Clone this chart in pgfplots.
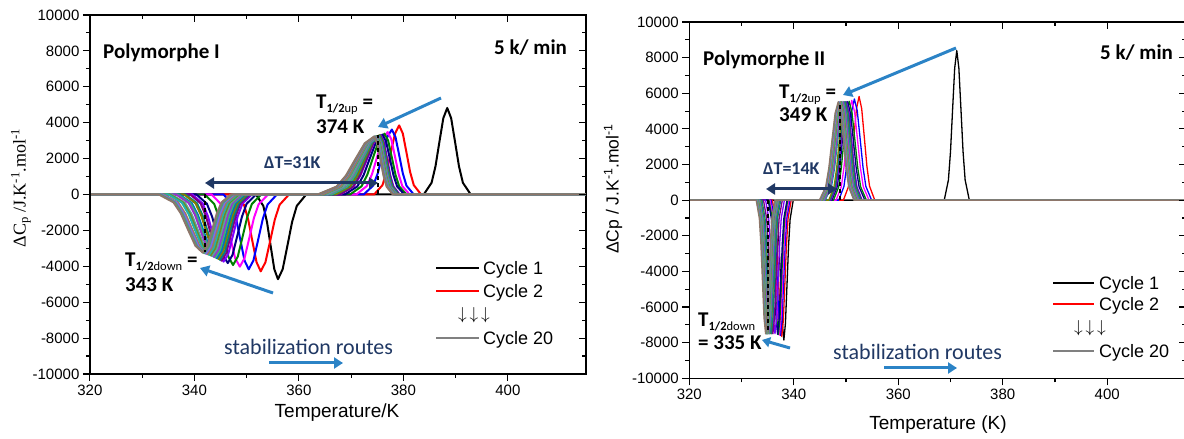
\documentclass[border=0pt]{standalone}
\usepackage{fontspec}
\setmainfont{Liberation Sans}
\newfontfamily\calib{Carlito}
\newfontfamily\tnr{Liberation Serif}
\usepackage{pgfplots}
\pgfplotsset{compat=1.18}
\usetikzlibrary{arrows.meta}
\definecolor{c1}{HTML}{000000}
\definecolor{c2}{HTML}{FF0000}
\definecolor{c3}{HTML}{0000FF}
\definecolor{c4}{HTML}{FF00FF}
\definecolor{c5}{HTML}{008000}
\definecolor{c6}{HTML}{000080}
\definecolor{c7}{HTML}{8000FF}
\definecolor{c8}{HTML}{800080}
\definecolor{c9}{HTML}{008080}
\definecolor{c10}{HTML}{808000}
\definecolor{c11}{HTML}{0070C0}
\definecolor{c12}{HTML}{3CB371}
\definecolor{c13}{HTML}{9932CC}
\definecolor{c14}{HTML}{5F9EA0}
\definecolor{c15}{HTML}{6B8E23}
\definecolor{c16}{HTML}{20B2AA}
\definecolor{c17}{HTML}{A0785A}
\definecolor{c18}{HTML}{7B68EE}
\definecolor{c19}{HTML}{4F9A7A}
\definecolor{c20}{HTML}{8E766A}
\definecolor{arrblue}{HTML}{2B83C6}
\definecolor{navytxt}{HTML}{203864}
\pgfplotsset{
  myframe/.style={scale only axis, width=496.3pt,
    xmin=320, xmax=415, ymin=-10000, ymax=10000,
    xtick={320,340,360,380,400}, ytick={-10000,-8000,-6000,-4000,-2000,0,2000,4000,6000,8000,10000},
    minor x tick num=1, minor y tick num=1,
    scaled x ticks=false, scaled y ticks=false,
    major tick length=7pt, minor tick length=4pt,
    axis line style={line width=1.4pt},
    tick style={line width=1.1pt, black},
    /pgf/number format/1000 sep={},
    /pgf/number format/assume math mode=true,
    tick label style={font=\fontsize{15}{18}\selectfont},
    clip=true},
}
\newcommand\bt[1]{{\calib\bfseries\fontsize{21}{24}\selectfont #1}}
\newcommand\sub[1]{\raisebox{-4pt}{\fontsize{12.5}{14}\selectfont #1}}
\begin{document}
\begin{tikzpicture}
\useasboundingbox (0pt,0pt) rectangle (1184pt,439pt);
% ================= LEFT PANEL =================
\begin{axis}[myframe, at={(89.9pt,65pt)}, anchor=south west, height=359pt,
  tick align=outside, xtick pos=left, ytick pos=left,
  every axis plot/.append style={line width=2pt, line join=round}]
\addplot[c1] coordinates {(320,0)(351.8,0)(353.2,-637)(353.9,-1534)(354.6,-2865)(355.3,-4163)(356.0,-4720)(356.9,-4163)(357.8,-2865)(358.7,-1534)(359.6,-637)(361.4,0)(383.9,0)(385.4,651)(386.15,1567)(386.9,2926)(387.65,4251)(388.4,4820)(389.15,4251)(389.9,2926)(390.65,1567)(391.4,651)(392.9,0)(415,0)};
\addplot[c2] coordinates {(320,0)(347.9,0)(349.5,-578)(350.3,-1391)(351.1,-2598)(351.9,-3775)(352.7,-4280)(353.6,-3775)(354.5,-2598)(355.4,-1391)(356.3,-578)(358.1,0)(374.4,0)(376.0,520)(376.8,1251)(377.6,2337)(378.4,3396)(379.2,3850)(379.9,3396)(380.6,2337)(381.3,1251)(382.0,520)(383.4,0)(415,0)};
\addplot[c3] coordinates {(320,0)(345.6,0)(347.2,-563)(348.0,-1355)(348.8,-2531)(349.6,-3678)(350.4,-4170)(351.3,-3678)(352.2,-2531)(353.1,-1355)(354.0,-563)(355.8,0)(372.4,0)(374.2,489)(375.1,1177)(376.0,2197)(376.9,3193)(377.8,3620)(378.5,3193)(379.2,2197)(379.9,1177)(380.6,489)(382.0,0)(415,0)};
\addplot[c4] coordinates {(320,0)(343.3,0)(345.1,-543)(346.0,-1307)(346.9,-2440)(347.8,-3546)(348.7,-4020)(349.6,-3546)(350.5,-2440)(351.4,-1307)(352.3,-543)(354.1,0)(371.0,0)(373.0,470)(374.0,1131)(375.0,2112)(376.0,3069)(377.0,3480)(377.7,3069)(378.4,2112)(379.1,1131)(379.8,470)(381.2,0)(415,0)};
\addplot[c5] coordinates {(320,0)(342.0,0)(343.8,-531)(344.7,-1277)(345.6,-2386)(346.5,-3466)(347.4,-3930)(348.3,-3466)(349.2,-2386)(350.1,-1277)(351.0,-531)(352.8,0)(369.8,0)(372.0,458)(373.1,1102)(374.2,2058)(375.3,2990)(376.4,3390)(377.1,2990)(377.8,2058)(378.5,1102)(379.2,458)(380.6,0)(415,0)};
\addplot[c6] coordinates {(320,0)(340.4,0)(342.4,-516)(343.4,-1242)(344.4,-2319)(345.4,-3369)(346.4,-3820)(347.3,-3369)(348.2,-2319)(349.1,-1242)(350.0,-516)(351.8,0)(368.8,0)(371.2,451)(372.4,1086)(373.6,2027)(374.8,2946)(376.0,3340)(376.7,2946)(377.4,2027)(378.1,1086)(378.8,451)(380.2,0)(415,0)};
\addplot[c7] coordinates {(320,0)(339.6,0)(341.6,-505)(342.6,-1216)(343.6,-2270)(344.6,-3299)(345.6,-3740)(346.5,-3299)(347.4,-2270)(348.3,-1216)(349.2,-505)(351.0,0)(367.9,0)(370.5,446)(371.8,1073)(373.1,2003)(374.4,2911)(375.7,3300)(376.3,2911)(376.9,2003)(377.5,1073)(378.1,446)(379.3,0)(415,0)};
\addplot[c8] coordinates {(320,0)(339.2,0)(341.2,-498)(342.2,-1199)(343.2,-2240)(344.2,-3255)(345.2,-3690)(346.1,-3255)(347.0,-2240)(347.9,-1199)(348.8,-498)(350.6,0)(367.8,0)(370.4,446)(371.7,1073)(373.0,2003)(374.3,2911)(375.6,3300)(376.2,2911)(376.8,2003)(377.4,1073)(378.0,446)(379.2,0)(415,0)};
\addplot[c9] coordinates {(320,0)(338.3,0)(340.5,-491)(341.6,-1183)(342.7,-2209)(343.8,-3210)(344.9,-3640)(345.8,-3210)(346.7,-2209)(347.6,-1183)(348.5,-491)(350.3,0)(367.1,0)(369.9,446)(371.3,1073)(372.7,2003)(374.1,2911)(375.5,3300)(376.1,2911)(376.7,2003)(377.3,1073)(377.9,446)(379.1,0)(415,0)};
\addplot[c10] coordinates {(320,0)(338.0,0)(340.2,-485)(341.3,-1167)(342.4,-2179)(343.5,-3166)(344.6,-3590)(345.5,-3166)(346.4,-2179)(347.3,-1167)(348.2,-485)(350.0,0)(367.0,0)(369.8,446)(371.2,1073)(372.6,2003)(374.0,2911)(375.4,3300)(376.0,2911)(376.6,2003)(377.2,1073)(377.8,446)(379.0,0)(415,0)};
\addplot[c11] coordinates {(320,0)(337.1,0)(339.5,-479)(340.7,-1154)(341.9,-2155)(343.1,-3131)(344.3,-3550)(345.2,-3131)(346.1,-2155)(347.0,-1154)(347.9,-479)(349.7,0)(366.3,0)(369.3,440)(370.8,1060)(372.3,1979)(373.8,2875)(375.3,3260)(375.9,2875)(376.5,1979)(377.1,1060)(377.7,440)(378.9,0)(415,0)};
\addplot[c12] coordinates {(320,0)(336.8,0)(339.2,-474)(340.4,-1141)(341.6,-2131)(342.8,-3096)(344.0,-3510)(344.9,-3096)(345.8,-2131)(346.7,-1141)(347.6,-474)(349.4,0)(366.2,0)(369.2,440)(370.7,1060)(372.2,1979)(373.7,2875)(375.2,3260)(375.8,2875)(376.4,1979)(377.0,1060)(377.6,440)(378.8,0)(415,0)};
\addplot[c13] coordinates {(320,0)(336.5,0)(338.9,-468)(340.1,-1128)(341.3,-2106)(342.5,-3061)(343.7,-3470)(344.6,-3061)(345.5,-2106)(346.4,-1128)(347.3,-468)(349.1,0)(365.5,0)(368.7,440)(370.3,1060)(371.9,1979)(373.5,2875)(375.1,3260)(375.7,2875)(376.3,1979)(376.9,1060)(377.5,440)(378.7,0)(415,0)};
\addplot[c14] coordinates {(320,0)(335.6,0)(338.2,-463)(339.5,-1115)(340.8,-2082)(342.1,-3025)(343.4,-3430)(344.3,-3025)(345.2,-2082)(346.1,-1115)(347.0,-463)(348.8,0)(365.4,0)(368.6,440)(370.2,1060)(371.8,1979)(373.4,2875)(375.0,3260)(375.6,2875)(376.2,1979)(376.8,1060)(377.4,440)(378.6,0)(415,0)};
\addplot[c15] coordinates {(320,0)(335.3,0)(337.9,-458)(339.2,-1102)(340.5,-2058)(341.8,-2990)(343.1,-3390)(344.0,-2990)(344.9,-2058)(345.8,-1102)(346.7,-458)(348.5,0)(364.7,0)(368.1,440)(369.8,1060)(371.5,1979)(373.2,2875)(374.9,3260)(375.5,2875)(376.1,1979)(376.7,1060)(377.3,440)(378.5,0)(415,0)};
\addplot[c16] coordinates {(320,0)(335.0,0)(337.6,-454)(338.9,-1092)(340.2,-2040)(341.5,-2964)(342.8,-3360)(343.7,-2964)(344.6,-2040)(345.5,-1092)(346.4,-454)(348.2,0)(364.6,0)(368.0,436)(369.7,1050)(371.4,1961)(373.1,2849)(374.8,3230)(375.4,2849)(376.0,1961)(376.6,1050)(377.2,436)(378.4,0)(415,0)};
\addplot[c17] coordinates {(320,0)(334.1,0)(336.9,-450)(338.3,-1082)(339.7,-2021)(341.1,-2937)(342.5,-3330)(343.4,-2937)(344.3,-2021)(345.2,-1082)(346.1,-450)(347.9,0)(364.5,0)(367.9,436)(369.6,1050)(371.3,1961)(373.0,2849)(374.7,3230)(375.3,2849)(375.9,1961)(376.5,1050)(377.1,436)(378.3,0)(415,0)};
\addplot[c18] coordinates {(320,0)(333.8,0)(336.6,-446)(338.0,-1073)(339.4,-2003)(340.8,-2911)(342.2,-3300)(343.1,-2911)(344.0,-2003)(344.9,-1073)(345.8,-446)(347.6,0)(363.8,0)(367.4,436)(369.2,1050)(371.0,1961)(372.8,2849)(374.6,3230)(375.2,2849)(375.8,1961)(376.4,1050)(377.0,436)(378.2,0)(415,0)};
\addplot[c19] coordinates {(320,0)(333.5,0)(336.3,-441)(337.7,-1063)(339.1,-1985)(340.5,-2884)(341.9,-3270)(342.8,-2884)(343.7,-1985)(344.6,-1063)(345.5,-441)(347.3,0)(363.7,0)(367.3,436)(369.1,1050)(370.9,1961)(372.7,2849)(374.5,3230)(375.1,2849)(375.7,1961)(376.3,1050)(376.9,436)(378.1,0)(415,0)};
\addplot[c20] coordinates {(320,0)(333.2,0)(336.0,-437)(337.4,-1053)(338.8,-1967)(340.2,-2858)(341.6,-3240)(342.5,-2858)(343.4,-1967)(344.3,-1053)(345.2,-437)(347.0,0)(363.6,0)(367.2,436)(369.0,1050)(370.8,1961)(372.6,2849)(374.4,3230)(375.0,2849)(375.6,1961)(376.2,1050)(376.8,436)(378.0,0)(415,0)};
\addplot[black, line width=2pt, dash pattern=on 4pt off 3pt] coordinates {(375.1,0)(375.1,3300)};
\addplot[black, line width=2pt, dash pattern=on 4pt off 3pt] coordinates {(342.1,0)(342.1,-3200)};
\end{axis}
\begin{axis}[myframe, at={(89.9pt,65pt)}, anchor=south west, height=359pt,
  tick align=inside, xtick pos=right, ytick pos=right, xticklabels={}, yticklabels={}]
\end{axis}
% ================= RIGHT PANEL =================
\begin{axis}[myframe, at={(689.3pt,60.7pt)}, anchor=south west, height=356.3pt,
  tick align=outside, xtick pos=left, ytick pos=left,
  every axis plot/.append style={line width=1.3pt, line join=round}]
\addplot[c1] coordinates {(320,0)(336.3,0)(336.9,-1060)(337.2,-2551)(337.5,-4765)(337.8,-6924)(338.1,-7850)(338.4,-6924)(338.7,-4765)(339.0,-2551)(339.3,-1060)(339.9,0)(368.8,0)(369.6,1134)(370.0,2730)(370.4,5099)(370.8,7409)(371.2,8400)(371.6,7409)(372.0,5099)(372.4,2730)(372.8,1134)(373.6,0)(415,0)};
\addplot[c2] coordinates {(320,0)(335.9,0)(336.5,-1033)(336.8,-2486)(337.1,-4644)(337.4,-6747)(337.7,-7650)(338.0,-6747)(338.3,-4644)(338.6,-2486)(338.9,-1033)(339.5,0)(349.5,0)(350.5,786)(351.0,1892)(351.5,3533)(352.0,5133)(352.5,5820)(353.0,5133)(353.5,3533)(354.0,1892)(354.5,786)(355.5,0)(415,0)};
\addplot[c3] coordinates {(320,0)(335.65,0)(336.25,-1026)(336.55,-2470)(336.85,-4613)(337.15,-6703)(337.45,-7600)(337.75,-6703)(338.05,-4613)(338.35,-2470)(338.65,-1026)(339.25,0)(348.6,0)(349.6,767)(350.1,1846)(350.6,3448)(351.1,5010)(351.6,5680)(352.15,5010)(352.7,3448)(353.25,1846)(353.8,767)(354.9,0)(415,0)};
\addplot[c4] coordinates {(320,0)(335.45,0)(336.05,-1022)(336.35,-2460)(336.65,-4595)(336.95,-6677)(337.25,-7570)(337.55,-6677)(337.85,-4595)(338.15,-2460)(338.45,-1022)(339.05,0)(348.1,0)(349.1,756)(349.6,1820)(350.1,3399)(350.6,4939)(351.1,5600)(351.65,4939)(352.2,3399)(352.75,1820)(353.3,756)(354.4,0)(415,0)};
\addplot[c5] coordinates {(320,0)(335.25,0)(335.85,-1019)(336.15,-2454)(336.45,-4583)(336.75,-6659)(337.05,-7550)(337.35,-6659)(337.65,-4583)(337.95,-2454)(338.25,-1019)(338.85,0)(347.6,0)(348.6,749)(349.1,1804)(349.6,3369)(350.1,4895)(350.6,5550)(351.15,4895)(351.7,3369)(352.25,1804)(352.8,749)(353.9,0)(415,0)};
\addplot[c6] coordinates {(320,0)(335.1,0)(335.7,-1017)(336.0,-2447)(336.3,-4571)(336.6,-6641)(336.9,-7530)(337.2,-6641)(337.5,-4571)(337.8,-2447)(338.1,-1017)(338.7,0)(347.3,0)(348.3,747)(348.8,1797)(349.3,3357)(349.8,4877)(350.3,5530)(350.85,4877)(351.4,3357)(351.95,1797)(352.5,747)(353.6,0)(415,0)};
\addplot[c7] coordinates {(320,0)(334.6,0)(335.2,-1013)(335.5,-2438)(335.8,-4553)(336.1,-6615)(336.4,-7500)(336.7,-6615)(337.0,-4553)(337.3,-2438)(337.6,-1013)(338.2,0)(347.1,0)(348.1,745)(348.6,1794)(349.1,3351)(349.6,4869)(350.1,5520)(350.6,4869)(351.1,3351)(351.6,1794)(352.1,745)(353.1,0)(415,0)};
\addplot[c8] coordinates {(320,0)(334.2,0)(334.8,-1013)(335.1,-2438)(335.4,-4553)(335.7,-6615)(336.0,-7500)(336.3,-6615)(336.6,-4553)(336.9,-2438)(337.2,-1013)(337.8,0)(347.0,0)(348.0,745)(348.5,1794)(349.0,3351)(349.5,4869)(350.0,5520)(350.5,4869)(351.0,3351)(351.5,1794)(352.0,745)(353.0,0)(415,0)};
\addplot[c9] coordinates {(320,0)(333.9,0)(334.5,-1013)(334.8,-2438)(335.1,-4553)(335.4,-6615)(335.7,-7500)(336.0,-6615)(336.3,-4553)(336.6,-2438)(336.9,-1013)(337.5,0)(346.9,0)(347.9,745)(348.4,1794)(348.9,3351)(349.4,4869)(349.9,5520)(350.4,4869)(350.9,3351)(351.4,1794)(351.9,745)(352.9,0)(415,0)};
\addplot[c10] coordinates {(320,0)(333.7,0)(334.3,-1013)(334.6,-2438)(334.9,-4553)(335.2,-6615)(335.5,-7500)(335.8,-6615)(336.1,-4553)(336.4,-2438)(336.7,-1013)(337.3,0)(346.7,0)(347.7,745)(348.2,1794)(348.7,3351)(349.2,4869)(349.7,5520)(350.2,4869)(350.7,3351)(351.2,1794)(351.7,745)(352.7,0)(415,0)};
\addplot[c11] coordinates {(320,0)(333.6,0)(334.2,-1013)(334.5,-2438)(334.8,-4553)(335.1,-6615)(335.4,-7500)(335.7,-6615)(336.0,-4553)(336.3,-2438)(336.6,-1013)(337.2,0)(346.0,0)(347.2,745)(347.8,1794)(348.4,3351)(349.0,4869)(349.6,5520)(350.1,4869)(350.6,3351)(351.1,1794)(351.6,745)(352.6,0)(415,0)};
\addplot[c12] coordinates {(320,0)(333.5,0)(334.1,-1013)(334.4,-2438)(334.7,-4553)(335.0,-6615)(335.3,-7500)(335.6,-6615)(335.9,-4553)(336.2,-2438)(336.5,-1013)(337.1,0)(345.9,0)(347.1,745)(347.7,1794)(348.3,3351)(348.9,4869)(349.5,5520)(350.0,4869)(350.5,3351)(351.0,1794)(351.5,745)(352.5,0)(415,0)};
\addplot[c13] coordinates {(320,0)(333.4,0)(334.0,-1013)(334.3,-2438)(334.6,-4553)(334.9,-6615)(335.2,-7500)(335.5,-6615)(335.8,-4553)(336.1,-2438)(336.4,-1013)(337.0,0)(345.8,0)(347.0,745)(347.6,1794)(348.2,3351)(348.8,4869)(349.4,5520)(349.9,4869)(350.4,3351)(350.9,1794)(351.4,745)(352.4,0)(415,0)};
\addplot[c14] coordinates {(320,0)(333.3,0)(333.9,-1013)(334.2,-2438)(334.5,-4553)(334.8,-6615)(335.1,-7500)(335.4,-6615)(335.7,-4553)(336.0,-2438)(336.3,-1013)(336.9,0)(345.6,0)(346.8,745)(347.4,1794)(348.0,3351)(348.6,4869)(349.2,5520)(349.7,4869)(350.2,3351)(350.7,1794)(351.2,745)(352.2,0)(415,0)};
\addplot[c15] coordinates {(320,0)(333.2,0)(333.8,-1013)(334.1,-2438)(334.4,-4553)(334.7,-6615)(335.0,-7500)(335.3,-6615)(335.6,-4553)(335.9,-2438)(336.2,-1013)(336.8,0)(345.5,0)(346.7,745)(347.3,1794)(347.9,3351)(348.5,4869)(349.1,5520)(349.6,4869)(350.1,3351)(350.6,1794)(351.1,745)(352.1,0)(415,0)};
\addplot[c16] coordinates {(320,0)(333.1,0)(333.7,-1013)(334.0,-2438)(334.3,-4553)(334.6,-6615)(334.9,-7500)(335.2,-6615)(335.5,-4553)(335.8,-2438)(336.1,-1013)(336.7,0)(345.4,0)(346.6,745)(347.2,1794)(347.8,3351)(348.4,4869)(349.0,5520)(349.5,4869)(350.0,3351)(350.5,1794)(351.0,745)(352.0,0)(415,0)};
\addplot[c17] coordinates {(320,0)(333.05,0)(333.65,-1013)(333.95,-2438)(334.25,-4553)(334.55,-6615)(334.85,-7500)(335.15,-6615)(335.45,-4553)(335.75,-2438)(336.05,-1013)(336.65,0)(345.3,0)(346.5,745)(347.1,1794)(347.7,3351)(348.3,4869)(348.9,5520)(349.4,4869)(349.9,3351)(350.4,1794)(350.9,745)(351.9,0)(415,0)};
\addplot[c18] coordinates {(320,0)(332.95,0)(333.55,-1013)(333.85,-2438)(334.15,-4553)(334.45,-6615)(334.75,-7500)(335.05,-6615)(335.35,-4553)(335.65,-2438)(335.95,-1013)(336.55,0)(345.1,0)(346.3,745)(346.9,1794)(347.5,3351)(348.1,4869)(348.7,5520)(349.2,4869)(349.7,3351)(350.2,1794)(350.7,745)(351.7,0)(415,0)};
\addplot[c19] coordinates {(320,0)(332.9,0)(333.5,-1013)(333.8,-2438)(334.1,-4553)(334.4,-6615)(334.7,-7500)(335.0,-6615)(335.3,-4553)(335.6,-2438)(335.9,-1013)(336.5,0)(345.0,0)(346.2,745)(346.8,1794)(347.4,3351)(348.0,4869)(348.6,5520)(349.1,4869)(349.6,3351)(350.1,1794)(350.6,745)(351.6,0)(415,0)};
\addplot[c20] coordinates {(320,0)(332.8,0)(333.4,-1013)(333.7,-2438)(334.0,-4553)(334.3,-6615)(334.6,-7500)(334.9,-6615)(335.2,-4553)(335.5,-2438)(335.8,-1013)(336.4,0)(344.9,0)(346.1,745)(346.7,1794)(347.3,3351)(347.9,4869)(348.5,5520)(349.0,4869)(349.5,3351)(350.0,1794)(350.5,745)(351.5,0)(415,0)};
\addplot[black, line width=1.8pt, dash pattern=on 4pt off 3pt] coordinates {(348.8,0)(348.8,5500)};
\addplot[black, line width=1.8pt, dash pattern=on 4pt off 3pt] coordinates {(335.1,0)(335.1,-7450)};
\end{axis}
\begin{axis}[myframe, at={(689.3pt,60.7pt)}, anchor=south west, height=356.3pt,
  tick align=inside, xtick pos=right, ytick pos=right, xticklabels={}, yticklabels={}]
\end{axis}
% ================= LABELS =================
\node at (337pt,26pt) {\fontsize{19}{22}\selectfont Temperature/K};
\node at (938pt,14pt) {\fontsize{19}{22}\selectfont Temperature (K)};
\node[rotate=90] at (21pt,251pt) {\tnr\fontsize{18}{21}\selectfont ΔC\textsubscript{p} /J.K\textsuperscript{-1}.mol\textsuperscript{-1}};
\node[rotate=90] at (613pt,250pt) {\fontsize{17.5}{21}\selectfont ΔCp / J.K\textsuperscript{-1}.mol\textsuperscript{-1}};
% left annotations
\node[anchor=base west, inner sep=0] at (103pt,380pt) {\bt{Polymorphe I}};
\node[anchor=base west, inner sep=0] at (494pt,384pt) {\bt{5 k/ min}};
\node[anchor=base west, inner sep=0] at (316pt,330pt) {\bt{T\sub{1/2\mdseries up} =}};
\node[anchor=base west, inner sep=0] at (316pt,305pt) {\bt{374 K}};
\node[anchor=base west, inner sep=0] at (264pt,270pt) {\calib\bfseries\fontsize{18}{21}\selectfont\color{navytxt}ΔT=31K};
\node[anchor=base west, inner sep=0] at (125pt,172pt) {\bt{T\sub{1/2\mdseries down} =}};
\node[anchor=base west, inner sep=0] at (125pt,147pt) {\bt{343 K}};
\node[anchor=base west, inner sep=0] at (224pt,84pt) {\calib\fontsize{22}{25}\selectfont\color{navytxt}stabilization routes};
\draw[arrblue, line width=3pt, -{Triangle[length=9pt,width=11pt]}] (441pt,341pt) -- (378pt,312pt);
\draw[arrblue, line width=3pt, -{Triangle[length=9pt,width=11pt]}] (273pt,146pt) -- (200pt,171pt);
\draw[arrblue, line width=3pt, -{Triangle[length=9pt,width=11pt]}] (269pt,76pt) -- (343pt,76pt);
\draw[navytxt, line width=3pt, {Triangle[length=9pt,width=11pt]}-{Triangle[length=9pt,width=11pt]}] (205pt,256pt) -- (378pt,256pt);
% left legend
\draw[black, line width=2pt] (436pt,171pt) -- (479pt,171pt);
\draw[red, line width=2pt] (436pt,148pt) -- (479pt,148pt);
\draw[gray, line width=2pt] (436pt,101pt) -- (479pt,101pt);
\node[anchor=base west, inner sep=0] at (483pt,164.5pt) {\fontsize{18}{21}\selectfont Cycle 1};
\node[anchor=base west, inner sep=0] at (483pt,141.5pt) {\fontsize{18}{21}\selectfont Cycle 2};
\node[anchor=base west, inner sep=0] at (483pt,94.5pt) {\fontsize{18}{21}\selectfont Cycle 20};
\node at (474pt,124pt) {\fontsize{18}{21}\selectfont $\downarrow\,\downarrow\,\downarrow$};
% right annotations
\node[anchor=base west, inner sep=0] at (703pt,373pt) {\bt{Polymorphe II}};
\node[anchor=base west, inner sep=0] at (1100pt,379pt) {\bt{5 k/ min}};
\node[anchor=base west, inner sep=0] at (779pt,340pt) {\bt{T\sub{1/2\mdseries up} =}};
\node[anchor=base west, inner sep=0] at (779pt,317pt) {\bt{349 K}};
\node[anchor=base west, inner sep=0] at (763pt,264pt) {\calib\bfseries\fontsize{18}{21}\selectfont\color{navytxt}ΔT=14K};
\node[anchor=base west, inner sep=0] at (698pt,112pt) {\bt{T\sub{1/2\mdseries down}}};
\node[anchor=base west, inner sep=0] at (698pt,89pt) {\bt{= 335 K}};
\node[anchor=base west, inner sep=0] at (833pt,79pt) {\calib\fontsize{22}{25}\selectfont\color{navytxt}stabilization routes};
\draw[arrblue, line width=3pt, -{Triangle[length=9pt,width=11pt]}] (956pt,391pt) -- (843pt,344pt);
\draw[arrblue, line width=3pt, -{Triangle[length=8pt,width=10pt]}] (790pt,91pt) -- (762pt,99pt);
\draw[arrblue, line width=3pt, -{Triangle[length=9pt,width=11pt]}] (884pt,71pt) -- (957pt,71pt);
\draw[navytxt, line width=3pt, {Triangle[length=9pt,width=11pt]}-{Triangle[length=9pt,width=11pt]}] (766pt,250pt) -- (837pt,250pt);
% right legend
\draw[black, line width=1.5pt] (1053pt,156pt) -- (1094pt,156pt);
\draw[red, line width=1.5pt] (1053pt,135pt) -- (1094pt,135pt);
\draw[gray, line width=1.5pt] (1053pt,88pt) -- (1094pt,88pt);
\node[anchor=base west, inner sep=0] at (1099pt,149.5pt) {\fontsize{18}{21}\selectfont Cycle 1};
\node[anchor=base west, inner sep=0] at (1099pt,128.5pt) {\fontsize{18}{21}\selectfont Cycle 2};
\node[anchor=base west, inner sep=0] at (1099pt,81.5pt) {\fontsize{18}{21}\selectfont Cycle 20};
\node at (1090pt,111pt) {\fontsize{18}{21}\selectfont $\downarrow\,\downarrow\,\downarrow$};
\end{tikzpicture}
\end{document}
